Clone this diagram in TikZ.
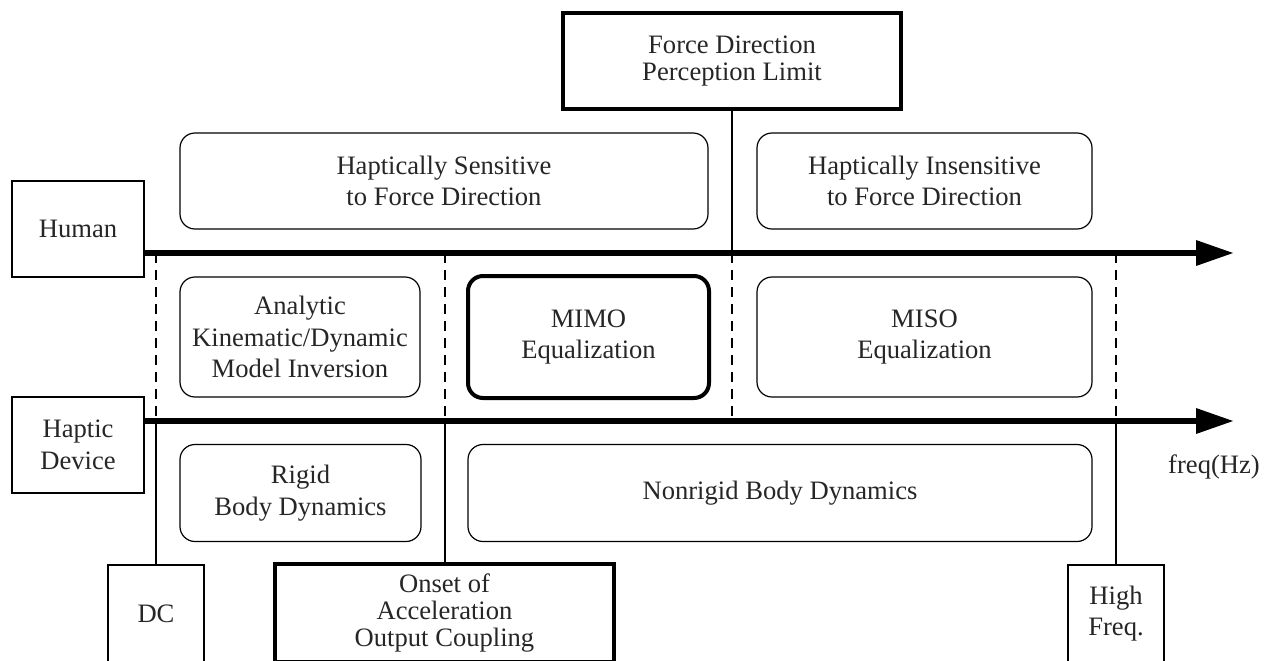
\documentclass[tikz,border=0pt]{standalone}
\usepackage{fontspec}
\setmainfont{Liberation Serif}
\usetikzlibrary{arrows.meta}

\tikzset{
  box/.style={draw, line width=0.6pt, align=center, inner sep=0pt, text=black!85},
  rbox/.style={box, rounded corners=7.5pt},
  thickbox/.style={box, line width=2pt, font=\fontsize{13.3pt}{13.5pt}\selectfont},
  thickrbox/.style={thickbox, rounded corners=7.5pt},
  sidebox/.style={box, line width=1.1pt, minimum width=66pt, minimum height=48pt},
  freqbox/.style={box, minimum width=48pt, minimum height=48.5pt},
  axis/.style={line width=3.2pt, -{Triangle[length=19pt,width=12pt]}},
  divline/.style={line width=1pt},
  divdash/.style={line width=1pt, dash pattern=on 5pt off 3.5pt}
}

\begin{document}
\begin{tikzpicture}[x=0.5pt, y=-0.5pt, font=\fontsize{13.3pt}{15.7pt}\selectfont]
\clip (0,0) rectangle (1266,660);
\useasboundingbox (0,0) rectangle (1266,660);

% levels of the two frequency axes
\coordinate (axA) at (0,253);
\coordinate (axB) at (0,421);
\coordinate (tipA) at (1234,253);
\coordinate (tipB) at (1234,421);

% top row
\node[thickbox, minimum width=169pt, minimum height=48pt] (fdpl) at (732,61) {Force Direction\\Perception Limit};
\node[rbox, minimum width=264pt, minimum height=48pt] (hsens) at (444,181) {Haptically Sensitive\\to Force Direction};
\node[rbox, minimum width=167.5pt, minimum height=48pt] (hinsens) at (924.5,181) {Haptically Insensitive\\to Force Direction};

% middle row
\node[sidebox] (human) at (78,229) {Human};
\node[rbox, minimum width=120pt, minimum height=60pt] (analytic) at (300,337) {Analytic\\Kinematic/Dynamic\\Model Inversion};
\node[thickrbox, minimum width=120.5pt, minimum height=61pt, font=\fontsize{13.3pt}{15.7pt}\selectfont] (mimo) at (588.5,337) {MIMO\\Equalization};
\node[rbox, minimum width=167.5pt, minimum height=60pt] (miso) at (924.5,337) {MISO\\Equalization};

% lower row
\node[sidebox] (device) at (78,445) {Haptic\\Device};
\node[rbox, minimum width=120.5pt, minimum height=48.5pt] (rigid) at (300.5,493) {Rigid\\Body Dynamics};
\node[rbox, minimum width=312pt, minimum height=48.5pt] (nonrigid) at (780,493) {Nonrigid Body Dynamics};
\node[text=black!85] (freq) at (1214,467) {freq(Hz)};

% frequency markers (bottom, cut by the page edge)
\node[freqbox] (dc) at (156,613.5) {DC};
\node[thickbox, minimum width=169.5pt, minimum height=49pt] (onset) at (444.5,612.5) {Onset of\\Acceleration\\Output Coupling};
\node[freqbox] (high) at (1116,613.5) {High\\Freq.};

% axes
\draw[axis] (human.east |- axA) -- (tipA);
\draw[axis] (device.east |- axB) -- (tipB);

% dividers
\draw[divline] (fdpl.south) -- (fdpl.south |- axA);
\draw[divdash] (fdpl.south |- axA) -- (fdpl.south |- axB);
\foreach \n in {dc, onset, high} {
  \draw[divdash] (\n.north |- axA) -- (\n.north |- axB);
  \draw[divline] (\n.north |- axB) -- (\n.north);
}
\end{tikzpicture}
\end{document}
